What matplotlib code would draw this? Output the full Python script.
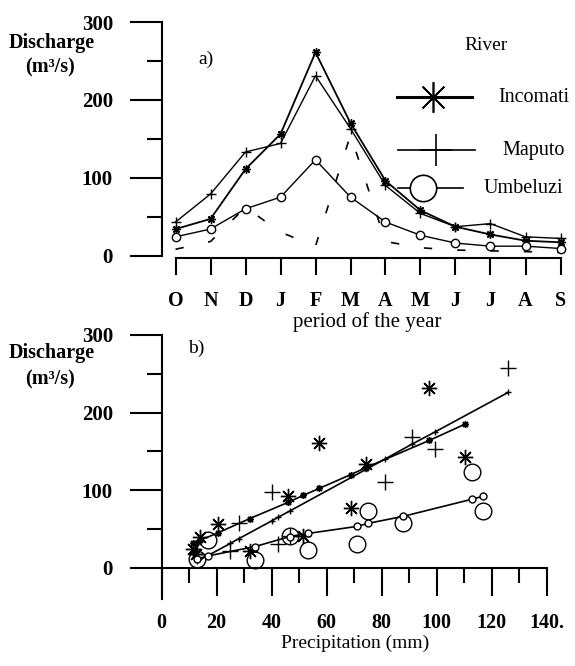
import matplotlib
matplotlib.use('Agg')
import matplotlib.pyplot as plt
from matplotlib.lines import Line2D
from matplotlib.ticker import MultipleLocator
import numpy as np

plt.rcParams['font.family'] = 'Liberation Serif'
plt.rcParams['font.size'] = 14

# ---- panel a: monthly discharge ----
months = ['O', 'N', 'D', 'J', 'F', 'M', 'A', 'M', 'J', 'J', 'A', 'S']
incomati_q = [34, 47, 111, 156, 261, 170, 96, 58, 37, 27, 19, 17]
maputo_q = [43, 79, 133, 144, 231, 163, 90, 54, 37, 41, 24, 22]
umbeluzi_q = [24, 34, 60, 75, 123, 75, 43, 26, 16, 12, 12, 9]
dashed_q = [8, 18, 62, 30, 12, 155, 18, 10, 7, 6, 5, 4]

# ---- panel b: discharge vs precipitation ----
inc_p = [11.6, 12.5, 14.0, 20.7, 32.0, 46.0, 51.5, 57.3, 68.9, 74.4, 97.4, 110.4]
inc_q = [24, 17, 39, 56, 21, 92, 41, 161, 77, 133, 232, 142]
inc_fit = [31, 32, 35, 45, 63, 84, 93, 102, 120, 129, 164, 185]

map_p = [13.0, 25.0, 28.0, 40.0, 42.5, 46.7, 81.3, 91.0, 99.5, 126.1]
map_q = [18, 21, 58, 97, 30, 41, 110, 168, 153, 258]
map_fit = [8, 31, 37, 60, 65, 73, 140, 159, 175, 226]

umb_p = [12.8, 17.0, 34.0, 46.7, 53.4, 71.0, 75.2, 87.9, 112.8, 117.0]
umb_q = [11, 36, 10, 41, 22, 30, 73, 58, 123, 73]
umb_fit = [11, 15, 27, 40, 44, 53, 57, 66, 88, 92]

STAR = (8, 2, 0)

W, H = 575, 666


def fx(x):
    return x / W


def fy(y):
    return 1 - y / H


def box(left, top, right, bottom):
    return [fx(left), fy(bottom), (right - left) / W, (bottom - top) / H]


def style_axis(ax):
    for s in ['top', 'right']:
        ax.spines[s].set_visible(False)
    for s in ['left', 'bottom']:
        ax.spines[s].set_linewidth(1.5)
    ax.set_yticks([0, 100, 200, 300], labels=['0', '100', '200', '300'], fontweight='bold')
    ax.yaxis.set_minor_locator(MultipleLocator(50))
    ax.tick_params(axis='y', which='major', direction='out', length=23, width=1.5, pad=12, labelsize=15)
    ax.tick_params(axis='y', which='minor', direction='out', length=11, width=1.5)


fig = plt.figure(figsize=(W / 100, H / 100), dpi=100)

# ================= panel a =================
ax = fig.add_axes(box(161.5, 22, 571, 263.3))
x = np.arange(len(months))
ax.plot(x, dashed_q, color='black', lw=1.2, dashes=(5, 15))
ax.plot(x, incomati_q, color='black', lw=1.3, marker=STAR, ms=6, mew=1)
ax.plot(x, maputo_q, color='black', lw=1.0, marker='+', ms=7, mew=1)
ax.plot(x, umbeluzi_q, color='black', lw=1.0, marker='o', ms=6, mfc='white', mew=1)
ax.set_xlim(-0.4, 11.3)
ax.set_ylim(-10, 300)
style_axis(ax)
ax.spines['left'].set_bounds(0, 300)
ax.spines['bottom'].set_position(('data', -3))
ax.spines['bottom'].set_bounds(0, 11)
ax.set_xticks(x, labels=months, fontweight='bold')
ax.tick_params(axis='x', direction='out', length=12, width=1.5, pad=12, labelsize=14.5)

# legend
legend_rows = [
    ('Incomati', 97, STAR, 22, 2.2, 397, 472, 433, 498),
    ('Maputo', 150, '+', 23, 1.2, 398, 475, 436, 502),
    ('Umbeluzi', 188, 'o', 19, 1.2, 398, 463, 423, 484),
]
for name, yy, mk, ms, lw, x0, x1, xm, tx in legend_rows:
    fig.add_artist(Line2D([fx(x0), fx(x1)], [fy(yy), fy(yy)], transform=fig.transFigure,
                          color='black', lw=lw))
    fig.add_artist(Line2D([fx(xm)], [fy(yy)], transform=fig.transFigure, color='black',
                          marker=mk, ms=ms, mew=1.2, mfc='white', ls='none'))
    fig.text(fx(tx), fy(yy), name, ha='left', va='center', fontsize=14.5)
fig.text(fx(486), fy(45), 'River', ha='center', va='center', fontsize=14)

fig.text(fx(206), fy(59), 'a)', ha='center', va='center', fontsize=14)
fig.text(fx(367), fy(322), 'period of the year', ha='center', va='center', fontsize=15)

# ================= panel b =================
bx = fig.add_axes(box(161.5, 335, 546.5, 598.5))
bx.plot(inc_p, inc_q, ls='none', color='black', marker=STAR, ms=11, mew=1)
bx.plot(map_p, map_q, ls='none', color='black', marker='+', ms=12, mew=1)
bx.plot(umb_p, umb_q, ls='none', color='black', marker='o', ms=12, mfc='none', mew=1)
bx.plot(inc_p, inc_fit, color='black', lw=1.2, marker=STAR, ms=5, mew=1)
bx.plot(map_p, map_fit, color='black', lw=1.2, marker='+', ms=5, mew=1)
bx.plot(umb_p, umb_fit, color='black', lw=1.2, marker='o', ms=5, mfc='white', mew=1)
bx.set_xlim(0, 140)
bx.set_ylim(-40, 300)
style_axis(bx)
bx.spines['bottom'].set_position(('data', 0))
bx.set_xticks(np.arange(0, 141, 20),
              labels=['0', '20', '40', '60', '80', '100', '120', '140.'], fontweight='bold')
bx.xaxis.set_minor_locator(MultipleLocator(10))
bx.tick_params(axis='x', which='major', direction='out', length=20, width=1.5, pad=13, labelsize=14.5)
bx.tick_params(axis='x', which='minor', direction='out', length=11, width=1.5)

fig.text(fx(196), fy(348), 'b)', ha='center', va='center', fontsize=14)
fig.text(fx(355), fy(643), 'Precipitation (mm)', ha='center', va='center', fontsize=14)

# y labels
for top, gap in ((43, 24), (353, 26)):
    fig.text(fx(52), fy(top), 'Discharge', ha='center', va='center', fontsize=14.5, fontweight='bold')
    fig.text(fx(50), fy(top + gap), '(m³/s)', ha='center', va='center', fontsize=14.5, fontweight='bold')

fig.savefig('out.png', dpi=100, facecolor='white')
